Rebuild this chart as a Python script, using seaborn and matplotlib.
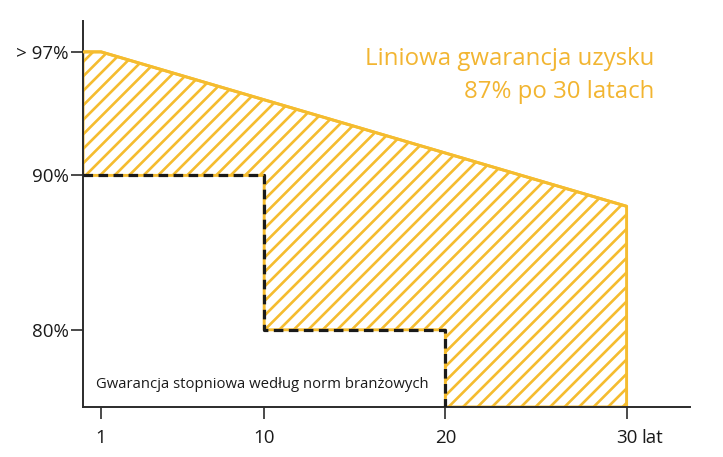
import matplotlib
matplotlib.use("Agg")
import matplotlib.pyplot as plt
import seaborn as sns
import pandas as pd

# Data
years_linear = [0, 1, 30]
linear_pct = [98, 98, 88]
years_step = [0, 10, 10, 20, 20]
step_pct = [90, 90, 80, 80, 75]
x_ticks = [1, 10, 20, 30]
x_labels = ["1", "10", "20", "30"]
y_ticks = [80, 90, 98]
y_labels = ["80%", "90%", "> 97%"]

YELLOW = "#F5BC2F"
TEXT_YELLOW = "#F2B531"
DARK = "#2b2b2b"

DPI = 87
k = 100 / DPI  # keep pixel sizes as designed at 100 dpi

sns.set_theme(style="white")
plt.rcParams['font.family'] = ['Open Sans', 'DejaVu Sans']
plt.rcParams['hatch.linewidth'] = 1.9 * k
plt.rcParams['hatch.color'] = YELLOW

fig = plt.figure(figsize=(724 / DPI, 457 / DPI), dpi=DPI)
ax = fig.add_axes([83/724, 1-407/457, (690-83)/724, (407-21)/457])

# hatched region between the linear guarantee and the step guarantee
poly_x = years_linear + [years_linear[-1]] + years_step[::-1]
poly_y = linear_pct + [step_pct[-1]] + step_pct[::-1]
ax.fill(poly_x, poly_y, facecolor="none", edgecolor=YELLOW, hatch="//", linewidth=0)
ax.plot(poly_x + [poly_x[0]], poly_y + [poly_y[0]], color=YELLOW, lw=2.1 * k, zorder=2)

df_lin = pd.DataFrame({"year": years_linear, "pct": linear_pct})
df_step = pd.DataFrame({"year": years_step, "pct": step_pct})
sns.lineplot(data=df_lin, x="year", y="pct", ax=ax, color=YELLOW, lw=2.1 * k,
             estimator=None, sort=False, zorder=3)
sns.lineplot(data=df_step, x="year", y="pct", ax=ax, color="#1a1a1a", lw=2.3 * k,
             estimator=None, sort=False, zorder=4, dashes=False)
ax.lines[-1].set_linestyle((0, (3.0, 1.7)))

ax.set_xlim(0, 33.5)
ax.set_ylim(75, 100)
ax.set_xlabel("")
ax.set_ylabel("")
ax.set_xticks(x_ticks)
ax.set_xticklabels(x_labels)
ax.set_yticks(y_ticks)
ax.set_yticklabels(y_labels)

for s in ["top", "right"]:
    ax.spines[s].set_visible(False)
for s in ["left", "bottom"]:
    ax.spines[s].set_color(DARK)
    ax.spines[s].set_linewidth(1.4 * k)
ax.tick_params(axis="both", direction="out", length=8.5 * k, width=1.2 * k, color=DARK,
               labelsize=13.5 * k, labelcolor="#1a1a1a", left=True, bottom=True)
ax.tick_params(axis="x", pad=7 * k)
ax.tick_params(axis="y", pad=2 * k)

ax.annotate("lat", xy=(30, 0), xycoords=("data", "axes fraction"),
            xytext=(11 * k, -15.5 * k), textcoords="offset points",
            ha="left", va="top", fontsize=13.5 * k, color="#1a1a1a")

ax.text(654/724, 1-59/457, "Liniowa gwarancja uzysku",
        transform=fig.transFigure, ha="right", va="center", fontsize=17.3 * k,
        color=TEXT_YELLOW)
ax.text(654/724, 1-92/457, "87% po 30 latach",
        transform=fig.transFigure, ha="right", va="center", fontsize=17.3 * k,
        color=TEXT_YELLOW)
ax.text(96/724, 1-384/457, "Gwarancja stopniowa według norm branżowych",
        transform=fig.transFigure, ha="left", va="center", fontsize=10.7 * k,
        color="#1a1a1a")

fig.savefig("out.png", dpi=DPI)
